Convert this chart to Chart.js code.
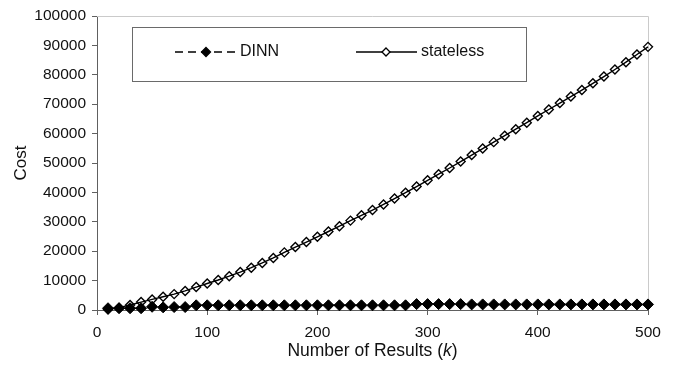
<!DOCTYPE html>
<html>
<head>
<meta charset="utf-8">
<script src="https://cdn.jsdelivr.net/npm/chart.js@4.4.1/dist/chart.umd.min.js"></script>
<style>
  html, body { margin: 0; padding: 0; background: #fff; }
  #wrap { width: 677px; height: 365px; }
</style>
</head>
<body>
<div id="wrap"><canvas id="costChart" width="677" height="365"></canvas></div>
<script>
// number of results k
const results = [10, 20, 30, 40, 50, 60, 70, 80, 90, 100,
  110, 120, 130, 140, 150, 160, 170, 180, 190, 200,
  210, 220, 230, 240, 250, 260, 270, 280, 290, 300,
  310, 320, 330, 340, 350, 360, 370, 380, 390, 400,
  410, 420, 430, 440, 450, 460, 470, 480, 490, 500];

// cost of the DINN approach
const dinnCost = [600, 600, 600, 600, 1100, 900, 1000, 1000, 1600, 1600,
  1600, 1600, 1600, 1600, 1600, 1600, 1600, 1600, 1600, 1600,
  1600, 1600, 1600, 1600, 1600, 1600, 1600, 1600, 2000, 2000,
  2000, 2000, 2000, 1900, 1900, 1900, 1900, 1900, 1900, 1900,
  1900, 1900, 1900, 1900, 1900, 1900, 1900, 1900, 1900, 1900];

// cost of the stateless approach
const statelessCost = [200, 800, 1700, 2700, 3600, 4500, 5400, 6500, 7800, 9000,
  10200, 11500, 12900, 14400, 16000, 17700, 19600, 21400, 23100, 24900,
  26700, 28500, 30400, 32200, 34000, 35900, 37900, 39900, 42000, 44100,
  46200, 48300, 50500, 52700, 54900, 57100, 59300, 61500, 63700, 66000,
  68200, 70400, 72600, 74800, 77100, 79400, 81800, 84300, 86900, 89500];

const seriesNames = ['DINN', 'stateless'];
const xTicks = [0, 100, 200, 300, 400, 500];
const yMax = 100000;

const FONT = 'Liberation Sans, Arial, sans-serif';

const toPoints = (ys) => results.map((k, i) => ({ x: k, y: ys[i] }));

// grey frame on top/right, boxed legend and the x axis title with italic k
const decorations = {
  id: 'decorations',
  beforeDatasetsDraw(chart) {
    const { ctx, chartArea: a } = chart;
    ctx.save();
    ctx.strokeStyle = '#cacaca';
    ctx.lineWidth = 1;
    ctx.beginPath();
    ctx.moveTo(a.left, a.top + 0.5);
    ctx.lineTo(a.right + 0.5, a.top + 0.5);
    ctx.lineTo(a.right + 0.5, a.bottom);
    ctx.stroke();
    ctx.restore();
  },
  afterDraw(chart) {
    const { ctx, chartArea: a } = chart;
    ctx.save();

    // legend box
    const bx = a.left + 35, by = a.top + 11, bw = 394, bh = 54;
    ctx.fillStyle = '#fff';
    ctx.fillRect(bx, by, bw, bh);
    ctx.strokeStyle = '#6a6a6a';
    ctx.lineWidth = 1;
    ctx.strokeRect(bx + 0.5, by + 0.5, bw, bh);

    const ly = by + 25;
    ctx.font = '16px ' + FONT;
    ctx.textBaseline = 'middle';
    ctx.textAlign = 'left';

    // DINN entry
    ctx.strokeStyle = '#000';
    ctx.lineWidth = 1.5;
    ctx.setLineDash([8, 5]);
    ctx.beginPath();
    ctx.moveTo(bx + 43, ly);
    ctx.lineTo(bx + 104, ly);
    ctx.stroke();
    ctx.setLineDash([]);
    diamond(ctx, bx + 74, ly, 4.5, '#000');
    ctx.fillStyle = '#111';
    ctx.fillText(seriesNames[0], bx + 108, ly);

    // stateless entry
    ctx.lineWidth = 1.3;
    ctx.beginPath();
    ctx.moveTo(bx + 224, ly);
    ctx.lineTo(bx + 285, ly);
    ctx.stroke();
    diamond(ctx, bx + 254, ly, 4, '#fff');
    ctx.fillStyle = '#111';
    ctx.fillText(seriesNames[1], bx + 289, ly);

    // x axis title
    const parts = [
      ['Number of Results (', '17.5px ' + FONT],
      ['k', 'italic 17.5px ' + FONT],
      [')', '17.5px ' + FONT]
    ];
    let total = 0;
    parts.forEach(([t, f]) => { ctx.font = f; total += ctx.measureText(t).width; });
    let tx = (a.left + a.right) / 2 - total / 2;
    parts.forEach(([t, f]) => {
      ctx.font = f;
      ctx.fillText(t, tx, 351);
      tx += ctx.measureText(t).width;
    });
    ctx.restore();
  }
};

function diamond(ctx, x, y, r, fill) {
  ctx.beginPath();
  ctx.moveTo(x, y - r);
  ctx.lineTo(x + r, y);
  ctx.lineTo(x, y + r);
  ctx.lineTo(x - r, y);
  ctx.closePath();
  ctx.fillStyle = fill;
  ctx.fill();
  ctx.strokeStyle = '#000';
  ctx.lineWidth = 1.3;
  ctx.stroke();
}

const chart = new Chart(document.getElementById('costChart'), {
  type: 'line',
  data: {
    datasets: [
      {
        label: seriesNames[0],
        data: toPoints(dinnCost),
        borderColor: '#000',
        borderWidth: 1.5,
        borderDash: [8, 5],
        pointStyle: 'rectRot',
        pointRadius: 5.5,
        pointBackgroundColor: '#000',
        pointBorderColor: '#000',
        pointBorderWidth: 1,
        tension: 0,
        clip: false
      },
      {
        label: seriesNames[1],
        data: toPoints(statelessCost),
        borderColor: '#000',
        borderWidth: 1.4,
        pointStyle: 'rectRot',
        pointRadius: 4.5,
        pointBackgroundColor: 'rgba(0,0,0,0)',
        pointBorderColor: '#000',
        pointBorderWidth: 1.4,
        tension: 0,
        clip: false
      }
    ]
  },
  options: {
    responsive: false,
    animation: false,
    devicePixelRatio: 1,
    layout: { padding: { top: 16, right: 29, left: 0, bottom: 0 } },
    plugins: {
      legend: { display: false },
      tooltip: { enabled: false }
    },
    scales: {
      x: {
        type: 'linear',
        min: 0,
        max: 500,
        afterBuildTicks: (scale) => { scale.ticks = xTicks.map(v => ({ value: v })); },
        afterFit: (scale) => { scale.height = 55; },
        border: { color: '#606060', width: 1 },
        grid: { drawOnChartArea: false, drawTicks: true, tickLength: 5, color: '#606060' },
        ticks: { color: '#111', padding: 8, font: { family: FONT, size: 15.5 } },
        title: { display: false }
      },
      y: {
        min: 0,
        max: yMax,
        afterFit: (scale) => { scale.width = 97; },
        border: { color: '#606060', width: 1 },
        grid: { drawOnChartArea: false, drawTicks: true, tickLength: 5, color: '#606060' },
        ticks: {
          stepSize: 10000,
          color: '#111',
          padding: 6,
          font: { family: FONT, size: 15.5 },
          callback: (v) => String(v)
        },
        title: {
          display: true,
          text: 'Cost',
          color: '#111',
          font: { family: FONT, size: 17 },
          padding: { top: 11 }
        }
      }
    }
  },
  plugins: [decorations]
});
</script>
</body>
</html>
